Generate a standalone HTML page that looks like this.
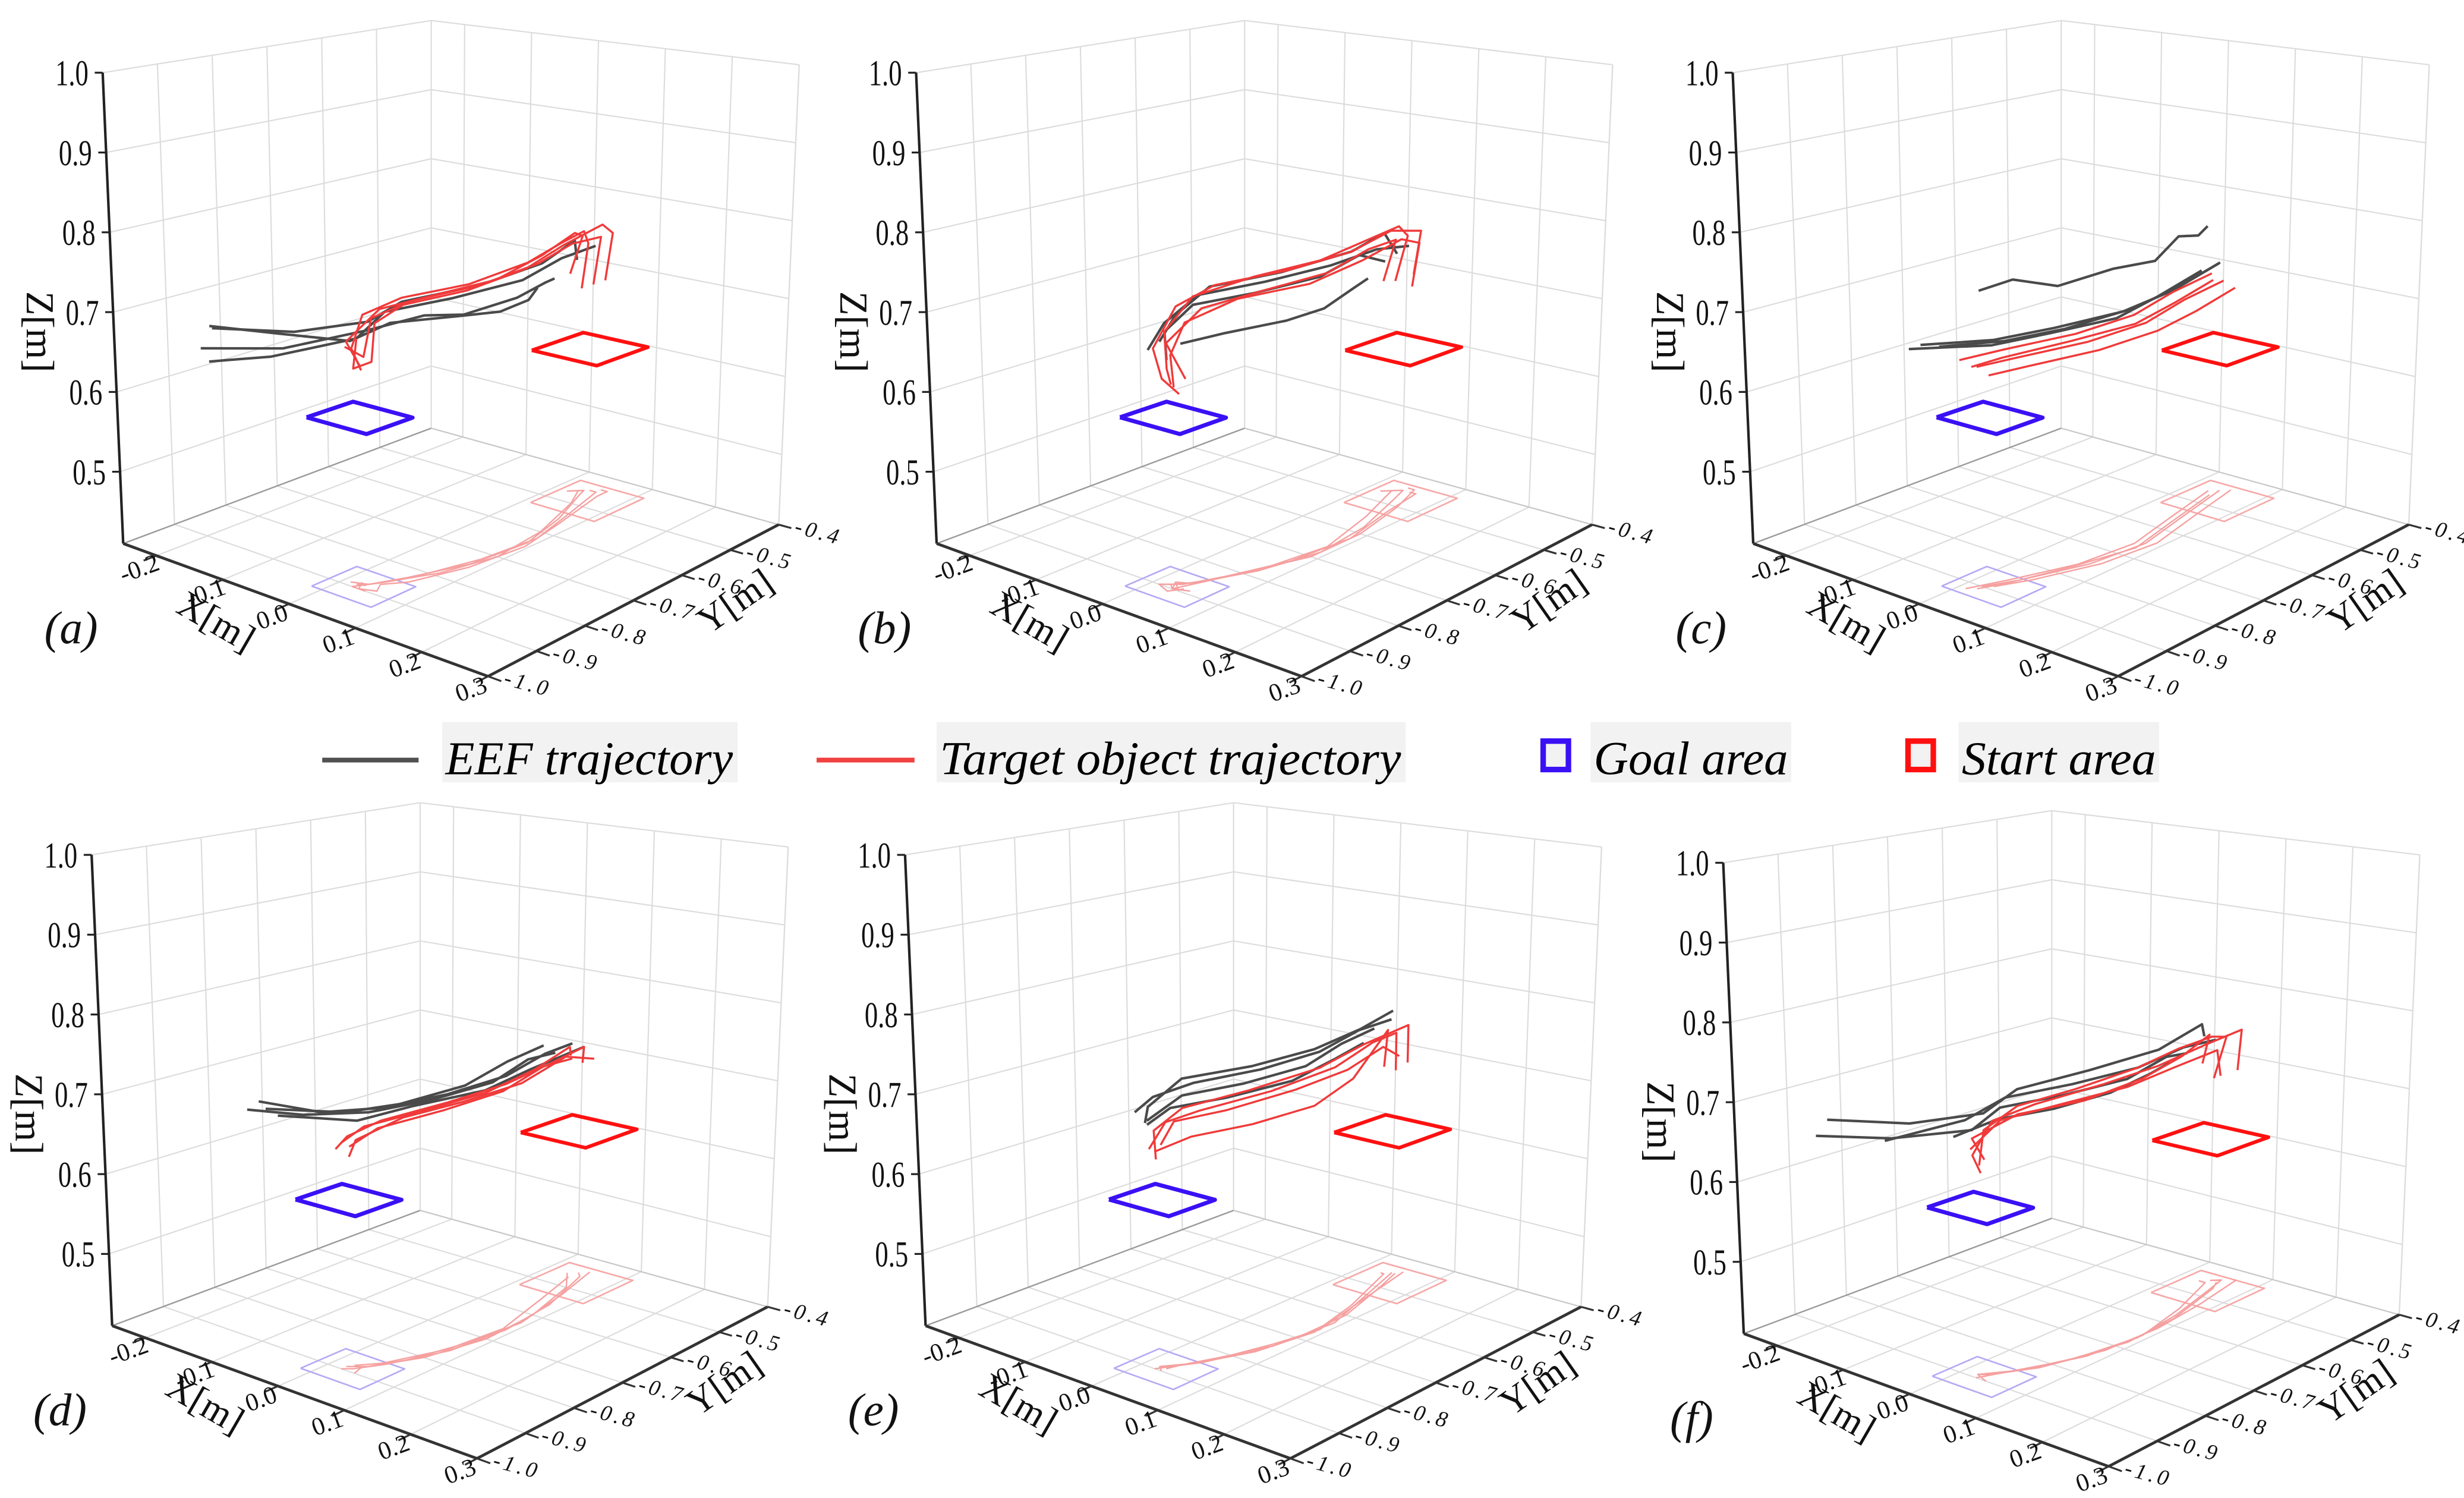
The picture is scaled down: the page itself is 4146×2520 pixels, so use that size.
<!DOCTYPE html>
<html><head><meta charset="utf-8"><style>
html,body{margin:0;padding:0;background:#fff;}
svg{display:block;}
</style></head><body>
<svg id="fig" xmlns="http://www.w3.org/2000/svg" width="4146" height="2520" viewBox="0 0 1560 948" preserveAspectRatio="none" font-family="'Liberation Serif', serif">
<rect x="0" y="0" width="1560" height="948" fill="#fff"/>
<g>
  <line x1="204" y1="481" x2="265" y2="481" stroke="#505050" stroke-width="3"/>
  <rect x="280" y="457" width="187" height="38" fill="#f2f2f2"/>
  <text x="282" y="490" font-size="30" font-style="italic" textLength="182" lengthAdjust="spacingAndGlyphs">EEF trajectory</text>
  <line x1="517" y1="481" x2="579" y2="481" stroke="#f04040" stroke-width="3"/>
  <rect x="593" y="457" width="297" height="38" fill="#f2f2f2"/>
  <text x="595" y="490" font-size="30" font-style="italic" textLength="292" lengthAdjust="spacingAndGlyphs">Target object trajectory</text>
  <rect x="977" y="469" width="16" height="18" fill="#f2f2f2" stroke="#3a10f5" stroke-width="3.5"/>
  <rect x="1007" y="457" width="127" height="38" fill="#f2f2f2"/>
  <text x="1009" y="490" font-size="30" font-style="italic" textLength="123" lengthAdjust="spacingAndGlyphs">Goal area</text>
  <rect x="1208" y="469" width="16" height="18" fill="#f2f2f2" stroke="#ff1010" stroke-width="3.5"/>
  <rect x="1240" y="457" width="127" height="38" fill="#f2f2f2"/>
  <text x="1242" y="490" font-size="30" font-style="italic" textLength="123" lengthAdjust="spacingAndGlyphs">Start area</text>
</g>
</svg>
<script>
// ---- axis data ----
const xTicks=[-0.2,-0.1,0.0,0.1,0.2,0.3];
const yTicks=[-1.0,-0.9,-0.8,-0.7,-0.6,-0.5,-0.4];
const zTicks=[0.5,0.6,0.7,0.8,0.9,1.0];
const xTickLabels=["-0.2","-0.1","0.0","0.1","0.2","0.3"];
const yTickLabels=["-1.0","-0.9","-0.8","-0.7","-0.6","-0.5","-0.4"];
const zTickLabels=["0.5","0.6","0.7","0.8","0.9","1.0"];
const panelLetters=["a","b","c","d","e","f"];
const goalCenter=[0.03,-0.89,0.61];
const startCenter=[0.06,-0.48,0.61];
// ---- series data: [x, y, z] in metres ----
const redA=[
[[0.03,-0.46,0.68],[0.035,-0.455,0.74],[0.04,-0.47,0.76],[0.07,-0.55,0.765],[0.09,-0.64,0.76],[0.08,-0.74,0.75],[0.05,-0.83,0.745],[0.03,-0.88,0.73],[0.02,-0.89,0.69],[0.03,-0.885,0.665]],
[[0.05,-0.44,0.69],[0.06,-0.44,0.755],[0.06,-0.46,0.77],[0.08,-0.56,0.765],[0.095,-0.65,0.755],[0.085,-0.75,0.745],[0.06,-0.84,0.74],[0.04,-0.87,0.72],[0.05,-0.89,0.68],[0.03,-0.9,0.67],[0.02,-0.88,0.70]],
[[0.02,-0.47,0.70],[0.03,-0.46,0.75],[0.05,-0.5,0.765],[0.08,-0.6,0.76],[0.09,-0.7,0.75],[0.07,-0.79,0.745],[0.04,-0.86,0.735],[0.02,-0.9,0.70],[0.04,-0.9,0.675]],
[[0.04,-0.45,0.685],[0.05,-0.45,0.75],[0.07,-0.53,0.76],[0.09,-0.62,0.755],[0.08,-0.72,0.745],[0.055,-0.82,0.74],[0.035,-0.87,0.725],[0.03,-0.88,0.68],[0.01,-0.89,0.69]]];
const grayA=[
[[0.03,-0.47,0.72],[0.05,-0.5,0.755],[0.08,-0.6,0.75],[0.08,-0.72,0.745],[0.05,-0.83,0.74],[0.03,-0.87,0.72],[-0.05,-0.91,0.70],[-0.15,-0.94,0.69]],
[[0.02,-0.5,0.70],[0.07,-0.58,0.72],[0.09,-0.66,0.72],[0.08,-0.75,0.715],[0.06,-0.8,0.72],[0.03,-0.87,0.71],[-0.06,-0.92,0.68],[-0.16,-0.95,0.665]],
[[0.05,-0.46,0.74],[0.07,-0.55,0.745],[0.09,-0.65,0.74],[0.07,-0.76,0.735],[0.04,-0.85,0.73],[0.02,-0.88,0.70],[-0.07,-0.93,0.67],[-0.14,-0.96,0.655]],
[[0.01,-0.52,0.69],[0.06,-0.6,0.70],[0.08,-0.68,0.705],[0.07,-0.74,0.71],[0.04,-0.84,0.715],[0.01,-0.88,0.695],[-0.08,-0.9,0.69],[-0.17,-0.92,0.685]]];
const redB=[
[[0.03,-0.46,0.69],[0.04,-0.45,0.75],[0.05,-0.48,0.77],[0.08,-0.58,0.775],[0.09,-0.68,0.77],[0.07,-0.78,0.765],[0.04,-0.86,0.75],[0.02,-0.89,0.71],[0.03,-0.9,0.67],[0.02,-0.88,0.645]],
[[0.05,-0.45,0.70],[0.06,-0.45,0.76],[0.07,-0.52,0.775],[0.09,-0.62,0.77],[0.08,-0.73,0.765],[0.05,-0.83,0.76],[0.03,-0.88,0.74],[0.01,-0.9,0.69],[0.03,-0.91,0.66],[0.04,-0.89,0.64]],
[[0.02,-0.47,0.69],[0.03,-0.46,0.745],[0.06,-0.55,0.755],[0.085,-0.66,0.75],[0.07,-0.77,0.745],[0.045,-0.85,0.735],[0.03,-0.9,0.70],[0.05,-0.89,0.66]],
[[0.04,-0.44,0.68],[0.05,-0.44,0.74],[0.07,-0.5,0.76],[0.09,-0.6,0.755],[0.09,-0.7,0.745],[0.06,-0.8,0.74],[0.035,-0.87,0.72],[0.02,-0.88,0.68],[0.04,-0.9,0.65]]];
const grayB=[
[[0.04,-0.47,0.73],[0.06,-0.52,0.77],[0.09,-0.62,0.77],[0.08,-0.74,0.765],[0.05,-0.84,0.76],[0.03,-0.88,0.73],[0.02,-0.9,0.70]],
[[0.03,-0.48,0.72],[0.07,-0.58,0.755],[0.09,-0.68,0.75],[0.07,-0.78,0.745],[0.04,-0.86,0.74],[0.02,-0.89,0.71],[0.03,-0.9,0.68]],
[[0.02,-0.5,0.70],[0.06,-0.58,0.71],[0.08,-0.66,0.705],[0.07,-0.72,0.70],[0.04,-0.8,0.695],[0.02,-0.86,0.69]],
[[0.05,-0.46,0.74],[0.08,-0.56,0.76],[0.09,-0.66,0.76],[0.07,-0.76,0.755],[0.04,-0.85,0.75],[0.02,-0.89,0.72],[0.01,-0.91,0.69]]];
const redC=[
[[0.04,-0.45,0.69],[0.06,-0.55,0.69],[0.08,-0.65,0.685],[0.07,-0.75,0.68],[0.04,-0.85,0.675],[0.02,-0.9,0.67]],
[[0.03,-0.46,0.70],[0.05,-0.56,0.70],[0.07,-0.66,0.695],[0.06,-0.76,0.69],[0.03,-0.86,0.685],[0.01,-0.92,0.68]],
[[0.05,-0.44,0.68],[0.07,-0.54,0.675],[0.09,-0.64,0.675],[0.08,-0.74,0.67],[0.05,-0.84,0.665],[0.03,-0.89,0.66]],
[[0.04,-0.47,0.695],[0.06,-0.57,0.69],[0.08,-0.67,0.688],[0.06,-0.77,0.683],[0.035,-0.87,0.678],[0.02,-0.91,0.672]]];
const grayC=[
[[0.03,-0.47,0.765],[0.04,-0.5,0.76],[0.05,-0.55,0.77],[0.07,-0.62,0.755],[0.07,-0.7,0.76],[0.05,-0.78,0.75],[0.03,-0.84,0.765],[0.01,-0.88,0.755]],
[[0.04,-0.46,0.715],[0.07,-0.58,0.712],[0.08,-0.68,0.708],[0.06,-0.78,0.70],[0.03,-0.86,0.695],[-0.02,-0.92,0.69]],
[[0.05,-0.47,0.72],[0.08,-0.6,0.715],[0.085,-0.7,0.71],[0.06,-0.8,0.705],[0.03,-0.88,0.70],[-0.04,-0.93,0.69]],
[[0.03,-0.48,0.708],[0.06,-0.6,0.705],[0.075,-0.7,0.70],[0.055,-0.8,0.698],[0.02,-0.87,0.69],[-0.05,-0.94,0.685]]];
const redD=[
[[0.04,-0.45,0.69],[0.05,-0.46,0.715],[0.08,-0.56,0.72],[0.09,-0.66,0.715],[0.08,-0.76,0.71],[0.05,-0.85,0.70],[0.03,-0.89,0.685],[0.02,-0.9,0.67]],
[[0.03,-0.46,0.70],[0.06,-0.5,0.725],[0.085,-0.6,0.72],[0.09,-0.7,0.712],[0.07,-0.8,0.705],[0.04,-0.87,0.695],[0.02,-0.89,0.675]],
[[0.05,-0.44,0.695],[0.07,-0.52,0.718],[0.09,-0.63,0.71],[0.08,-0.73,0.705],[0.06,-0.82,0.70],[0.035,-0.88,0.68],[0.04,-0.9,0.665]],
[[0.04,-0.47,0.70],[0.06,-0.55,0.71],[0.085,-0.66,0.705],[0.075,-0.76,0.70],[0.045,-0.85,0.69],[0.025,-0.88,0.67]]];
const grayD=[
[[0.04,-0.47,0.72],[0.07,-0.56,0.73],[0.09,-0.66,0.725],[0.08,-0.76,0.72],[0.05,-0.85,0.715],[0.0,-0.9,0.71],[-0.07,-0.93,0.715]],
[[0.03,-0.49,0.71],[0.06,-0.58,0.725],[0.085,-0.68,0.72],[0.07,-0.78,0.715],[0.04,-0.86,0.71],[-0.02,-0.91,0.705],[-0.08,-0.94,0.705]],
[[0.05,-0.46,0.715],[0.08,-0.6,0.72],[0.09,-0.7,0.715],[0.06,-0.8,0.71],[0.03,-0.87,0.70],[-0.05,-0.92,0.70]],
[[0.02,-0.5,0.72],[0.06,-0.62,0.73],[0.075,-0.72,0.722],[0.055,-0.82,0.715],[0.02,-0.88,0.71],[-0.06,-0.93,0.708]]];
const redE=[
[[0.04,-0.45,0.68],[0.04,-0.45,0.73],[0.06,-0.52,0.735],[0.09,-0.63,0.73],[0.08,-0.74,0.72],[0.05,-0.84,0.71],[0.03,-0.88,0.70],[0.02,-0.9,0.67]],
[[0.05,-0.44,0.69],[0.05,-0.44,0.74],[0.07,-0.55,0.74],[0.09,-0.66,0.735],[0.07,-0.77,0.725],[0.04,-0.86,0.715],[0.02,-0.89,0.69],[0.03,-0.9,0.66]],
[[0.03,-0.46,0.685],[0.035,-0.46,0.735],[0.07,-0.57,0.70],[0.09,-0.67,0.69],[0.075,-0.77,0.685],[0.045,-0.85,0.68],[0.02,-0.89,0.665]],
[[0.045,-0.45,0.70],[0.06,-0.5,0.725],[0.085,-0.6,0.72],[0.085,-0.7,0.715],[0.06,-0.8,0.705],[0.035,-0.87,0.70],[0.03,-0.89,0.675]]];
const grayE=[
[[0.04,-0.46,0.75],[0.07,-0.56,0.76],[0.09,-0.66,0.755],[0.08,-0.76,0.75],[0.05,-0.85,0.745],[0.02,-0.89,0.73],[0.0,-0.9,0.71]],
[[0.03,-0.48,0.74],[0.06,-0.58,0.745],[0.085,-0.68,0.74],[0.07,-0.78,0.735],[0.04,-0.86,0.73],[0.01,-0.89,0.70]],
[[0.05,-0.47,0.765],[0.08,-0.57,0.765],[0.09,-0.67,0.76],[0.075,-0.77,0.755],[0.04,-0.86,0.75],[0.02,-0.9,0.72],[0.015,-0.9,0.70]],
[[0.03,-0.5,0.725],[0.065,-0.6,0.73],[0.08,-0.7,0.725],[0.06,-0.8,0.72],[0.03,-0.87,0.715],[0.01,-0.89,0.695]]];
const redF=[
[[0.04,-0.45,0.68],[0.05,-0.44,0.735],[0.06,-0.48,0.745],[0.08,-0.57,0.75],[0.09,-0.66,0.745],[0.075,-0.76,0.735],[0.05,-0.84,0.725],[0.03,-0.88,0.70],[0.03,-0.89,0.66]],
[[0.06,-0.43,0.69],[0.065,-0.43,0.745],[0.08,-0.52,0.745],[0.09,-0.62,0.74],[0.085,-0.72,0.735],[0.06,-0.82,0.725],[0.035,-0.87,0.71],[0.02,-0.89,0.67],[0.04,-0.9,0.655]],
[[0.03,-0.46,0.70],[0.04,-0.46,0.74],[0.07,-0.55,0.735],[0.09,-0.65,0.73],[0.08,-0.75,0.72],[0.05,-0.84,0.715],[0.02,-0.89,0.69],[0.03,-0.88,0.665]],
[[0.05,-0.45,0.685],[0.06,-0.47,0.725],[0.085,-0.58,0.73],[0.09,-0.68,0.725],[0.07,-0.78,0.72],[0.04,-0.86,0.71],[0.025,-0.9,0.68]]];
const grayF=[
[[0.04,-0.47,0.74],[0.06,-0.5,0.765],[0.09,-0.62,0.76],[0.08,-0.74,0.755],[0.05,-0.84,0.745],[0.03,-0.88,0.72],[-0.05,-0.92,0.70],[-0.15,-0.95,0.69]],
[[0.03,-0.49,0.72],[0.07,-0.58,0.74],[0.09,-0.68,0.735],[0.07,-0.78,0.73],[0.04,-0.86,0.725],[0.02,-0.89,0.70],[-0.07,-0.93,0.68],[-0.16,-0.96,0.67]],
[[0.05,-0.46,0.735],[0.08,-0.56,0.75],[0.09,-0.66,0.745],[0.07,-0.76,0.74],[0.04,-0.85,0.735],[0.01,-0.89,0.71],[-0.08,-0.93,0.675]],
[[0.02,-0.51,0.71],[0.06,-0.6,0.72],[0.08,-0.7,0.72],[0.065,-0.79,0.715],[0.035,-0.86,0.71],[0.0,-0.9,0.69]]];
const redSeries=[redA,redB,redC,redD,redE,redF];
const graySeries=[grayA,grayB,grayC,grayD,grayE,grayF];

// ---- layout (not data) ----
const offsets=[[0,0],[515,0],[1032,0],[-7,495],[508,495],[1026,500]];
const XMIN=-0.25,XMAX=0.3,YMIN=-1.0,YMAX=-0.4,ZMIN=0.41,ZMAX=1.0;
const C={L:[78,344],F:[309,428],R:[493,332],B:[273,271],Lt:[65,46],Ft:[300,78],Rt:[506,41],Bt:[273,13]};
const NS="http://www.w3.org/2000/svg";
const svg=document.getElementById('fig');
function bil(a,b,c,d,u,v,i){return (1-u)*(1-v)*a[i]+u*(1-v)*b[i]+u*v*c[i]+(1-u)*v*d[i];}
function proj(p,x,y,z){
  const u=(x-XMIN)/(XMAX-XMIN), v=(y-YMIN)/(YMAX-YMIN), w=(z-ZMIN)/(ZMAX-ZMIN);
  const fx=bil(C.L,C.F,C.R,C.B,u,v,0), fy=bil(C.L,C.F,C.R,C.B,u,v,1);
  const tx=bil(C.Lt,C.Ft,C.Rt,C.Bt,u,v,0), ty=bil(C.Lt,C.Ft,C.Rt,C.Bt,u,v,1);
  return [offsets[p][0]+fx+w*(tx-fx), offsets[p][1]+fy+w*(ty-fy)];
}
function mk(tag,attrs,parent){const e=document.createElementNS(NS,tag);for(const k in attrs)e.setAttribute(k,attrs[k]);parent.appendChild(e);return e;}
function line(p,a,b,parent,stroke,sw){const A=proj(p,...a),B=proj(p,...b);return mk('line',{x1:A[0],y1:A[1],x2:B[0],y2:B[1],stroke:stroke,'stroke-width':sw},parent);}
function path3(p,pts,parent,stroke,sw){const d=pts.map((q,i)=>{const P=proj(p,q[0],q[1],q[2]);return (i?'L':'M')+P[0].toFixed(1)+' '+P[1].toFixed(1);}).join(' ');return mk('path',{d:d,fill:'none',stroke:stroke,'stroke-width':sw,'stroke-linejoin':'round'},parent);}
function square(p,c,h,z,parent,stroke,sw){const pts=[[c[0]-h,c[1]-h,z],[c[0]+h,c[1]-h,z],[c[0]+h,c[1]+h,z],[c[0]-h,c[1]+h,z],[c[0]-h,c[1]-h,z]];return path3(p,pts,parent,stroke,sw);}

for(let p=0;p<6;p++){
  const g=mk('g',{},svg);
  
  
  const grid=mk('g',{},g);
  
  
  const GC='#dcdcdc';
  yTicks.forEach(y=>line(p,[XMIN,y,ZMIN],[XMIN,y,ZMAX],grid,GC,0.8));
  zTicks.forEach(z=>line(p,[XMIN,YMIN,z],[XMIN,YMAX,z],grid,GC,0.8));
  xTicks.forEach(x=>line(p,[x,YMAX,ZMIN],[x,YMAX,ZMAX],grid,GC,0.8));
  line(p,[XMAX,YMAX,ZMIN],[XMAX,YMAX,ZMAX],grid,GC,0.8);
  zTicks.forEach(z=>line(p,[XMIN,YMAX,z],[XMAX,YMAX,z],grid,GC,0.8));
  xTicks.forEach(x=>line(p,[x,YMIN,ZMIN],[x,YMAX,ZMIN],grid,GC,0.8));
  yTicks.forEach(y=>line(p,[XMIN,y,ZMIN],[XMAX,y,ZMIN],grid,GC,0.8));
  line(p,[XMIN,YMIN,ZMIN],[XMIN,YMAX,ZMIN],grid,'#9a9a9a',0.9);
  line(p,[XMIN,YMAX,ZMIN],[XMAX,YMAX,ZMIN],grid,'#c8c8c8',0.8);
  const ax=mk('g',{},g);
  
  
  const zAxis=line(p,[XMIN,YMIN,ZMIN],[XMIN,YMIN,ZMAX],ax,'#222',1.6);
  
  
  const xAxis=line(p,[XMIN,YMIN,ZMIN],[XMAX,YMIN,ZMIN],ax,'#333',1.8);
  
  
  const yAxis=line(p,[XMAX,YMIN,ZMIN],[XMAX,YMAX,ZMIN],ax,'#333',1.8);
  
  
  zTicks.forEach((z,i)=>{
    const P=proj(p,XMIN,YMIN,z);
    mk('line',{x1:P[0]-5,y1:P[1],x2:P[0],y2:P[1],stroke:'#222','stroke-width':1.2},ax);
    const t=mk('text',{x:P[0]-9,y:P[1]+8,'font-size':23,'text-anchor':'end',fill:'#111',textLength:21,lengthAdjust:'spacingAndGlyphs'},ax);
    t.textContent=zTickLabels[i];
    
    
  });
  xTicks.forEach((x,i)=>{
    const P=proj(p,x,YMIN,ZMIN),Q=proj(p,x,YMIN-0.025,ZMIN);
    mk('line',{x1:P[0],y1:P[1],x2:Q[0],y2:Q[1],stroke:'#333','stroke-width':1.2},ax);
    const t=mk('text',{x:P[0]-9,y:P[1]+13,'font-size':16,'text-anchor':'middle',fill:'#111',transform:'rotate(-20 '+(P[0]-9)+' '+(P[1]+13)+')'},ax);
    t.textContent=xTickLabels[i];
    
    
  });
  yTicks.forEach((y,i)=>{
    const P=proj(p,XMAX,y,ZMIN),Q=proj(p,XMAX+0.02,y,ZMIN);
    mk('line',{x1:P[0],y1:P[1],x2:Q[0],y2:Q[1],stroke:'#333','stroke-width':1.2},ax);
    const t=mk('text',{x:P[0]+24,y:P[1]+9,'font-size':14,'font-style':'italic','letter-spacing':'2','text-anchor':'middle',fill:'#111',transform:'rotate(15 '+(P[0]+24)+' '+(P[1]+9)+')'},ax);
    t.textContent=yTickLabels[i];
    
    
  });
  const ox=offsets[p][0],oy=offsets[p][1];
  const zt=mk('text',{x:ox+17,y:oy+210,'font-size':25,'text-anchor':'middle',fill:'#111',transform:'rotate(90 '+(ox+17)+' '+(oy+210)+')'},g);
  zt.textContent='Z[m]';
  
  
  const xt=mk('text',{x:ox+133,y:oy+400,'font-size':24,'text-anchor':'middle',fill:'#111',transform:'rotate(30 '+(ox+133)+' '+(oy+400)+')'},g);
  xt.textContent='X[m]';
  
  
  const yt=mk('text',{x:ox+470,y:oy+387,'font-size':24,'text-anchor':'middle',fill:'#111',transform:'rotate(-35 '+(ox+470)+' '+(oy+387)+')'},g);
  yt.textContent='Y[m]';
  
  
  const lt=mk('text',{x:ox+45,y:oy+407,'font-size':29,'font-style':'italic','text-anchor':'middle',fill:'#111'},g);
  lt.textContent='('+panelLetters[p]+')';
  
  
  const fl=mk('g',{},g);
  
  
  const gf=square(p,goalCenter,0.045,ZMIN,fl,'#b4aaf5',1);
  
  
  const sf=square(p,startCenter,0.05,ZMIN,fl,'#f7a8a8',1);
  
  
  redSeries[p].forEach(tr=>{
    const sh=path3(p,tr.map(q=>[q[0],q[1],ZMIN]),fl,'#f6a0a0',0.9);
    
    
  });
  const gs=square(p,goalCenter,0.045,goalCenter[2],g,'#3a10f5',2.6);
  
  
  const ss=square(p,startCenter,0.05,startCenter[2],g,'#ff1010',2.3);
  
  
  graySeries[p].forEach(tr=>{
    const e=path3(p,tr,g,'#4a4a4a',1.6);
    
    
  });
  redSeries[p].forEach(tr=>{
    const e=path3(p,tr,g,'#f03a3a',1.3);
    
    
  });
}
</script>
</body></html>
